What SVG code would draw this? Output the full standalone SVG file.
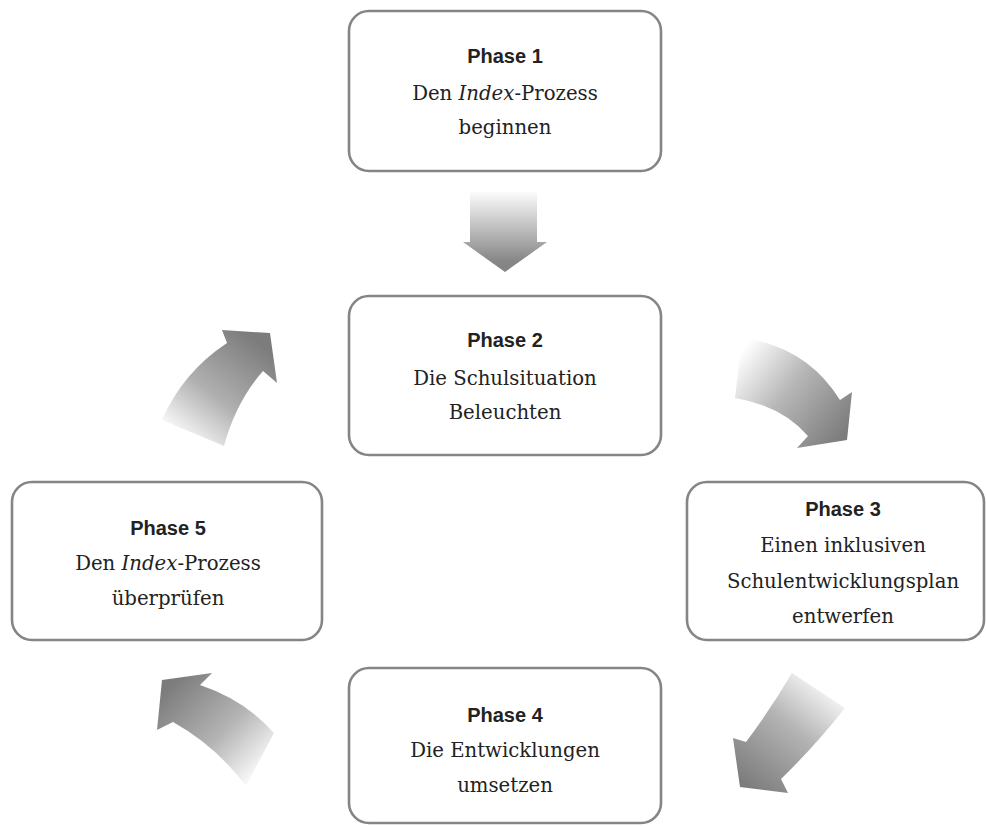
<svg xmlns="http://www.w3.org/2000/svg" width="986" height="826" viewBox="0 0 986 826">
<defs>
<style>
.box{fill:#fff;stroke:#858585;stroke-width:2.6}
.ph{font-family:"Liberation Sans",Arial,sans-serif;font-weight:bold;font-size:20px;fill:#222;text-anchor:middle}
.tx{font-family:"DejaVu Serif","Liberation Serif",serif;font-size:19.7px;fill:#222;text-anchor:middle}
.it{font-style:italic}
</style>
<linearGradient id="gDown" gradientUnits="userSpaceOnUse" x1="505" y1="190" x2="505" y2="262">
<stop offset="0" stop-color="#ffffff"/><stop offset="1" stop-color="#858585"/>
</linearGradient>
<linearGradient id="g2" gradientUnits="userSpaceOnUse" x1="185" y1="445" x2="262" y2="345">
<stop offset="0" stop-color="#ffffff"/><stop offset="0.45" stop-color="#b0b0b0"/><stop offset="1" stop-color="#7c7c7c"/>
</linearGradient>
<linearGradient id="g3" gradientUnits="userSpaceOnUse" x1="735" y1="360" x2="840" y2="440">
<stop offset="0" stop-color="#ffffff"/><stop offset="0.45" stop-color="#b8b8b8"/><stop offset="1" stop-color="#7c7c7c"/>
</linearGradient>
<linearGradient id="g4" gradientUnits="userSpaceOnUse" x1="830" y1="680" x2="745" y2="785">
<stop offset="0" stop-color="#ffffff"/><stop offset="0.45" stop-color="#b4b4b4"/><stop offset="1" stop-color="#7c7c7c"/>
</linearGradient>
<linearGradient id="g5" gradientUnits="userSpaceOnUse" x1="262" y1="775" x2="170" y2="685">
<stop offset="0" stop-color="#ffffff"/><stop offset="0.45" stop-color="#b4b4b4"/><stop offset="1" stop-color="#7c7c7c"/>
</linearGradient>
</defs>
<rect width="986" height="826" fill="#fff"/>

<g id="connectors">
<path d="M470,192 L537,192 L537,242 L547,242 L505,272 L463,242 L470,242 Z" fill="url(#gDown)"/>
<path d="M162,420 Q183,372 227,343 L222,330 L270,333 L277,383 L263,371 Q236,402 224,446 Z" fill="url(#g2)"/>
<path d="M742,338 Q806,346 840,400 L852,392 L847,440 L797,448 L808,436 Q782,406 735,398 Z" fill="url(#g3)"/>
<path d="M792,673 Q770,710 746,742 L733,738 L740,787 L788,793 L781,779 Q815,746 845,708 Z" fill="url(#g4)"/>
<path d="M200,685 Q245,700 274,733 L246,786 Q216,746 173,722 L157,730 L162,680 L212,673 Z" fill="url(#g5)"/>
</g>

<g id="phase1">
<rect class="box" x="349" y="11" width="312" height="160" rx="20"/>
<text class="ph" x="505" y="63">Phase 1</text>
<text class="tx" x="505" y="100">Den <tspan class="it">Index</tspan>-Prozess</text>
<text class="tx" x="505" y="134">beginnen</text>
</g>

<g id="phase2">
<rect class="box" x="349" y="296" width="312" height="159" rx="20"/>
<text class="ph" x="505" y="347">Phase 2</text>
<text class="tx" x="505" y="385">Die Schulsituation</text>
<text class="tx" x="505" y="419">Beleuchten</text>
</g>

<g id="phase3">
<rect class="box" x="687" y="482" width="297" height="158" rx="20"/>
<text class="ph" x="843" y="516">Phase 3</text>
<text class="tx" x="843" y="552">Einen inklusiven</text>
<text class="tx" x="843" y="588">Schulentwicklungsplan</text>
<text class="tx" x="843" y="623">entwerfen</text>
</g>

<g id="phase4">
<rect class="box" x="349" y="668" width="312" height="155" rx="20"/>
<text class="ph" x="505" y="722">Phase 4</text>
<text class="tx" x="505" y="757">Die Entwicklungen</text>
<text class="tx" x="505" y="792">umsetzen</text>
</g>

<g id="phase5">
<rect class="box" x="12" y="482" width="310" height="158" rx="20"/>
<text class="ph" x="168" y="535">Phase 5</text>
<text class="tx" x="168" y="570">Den <tspan class="it">Index</tspan>-Prozess</text>
<text class="tx" x="168" y="605">überprüfen</text>
</g>
</svg>
